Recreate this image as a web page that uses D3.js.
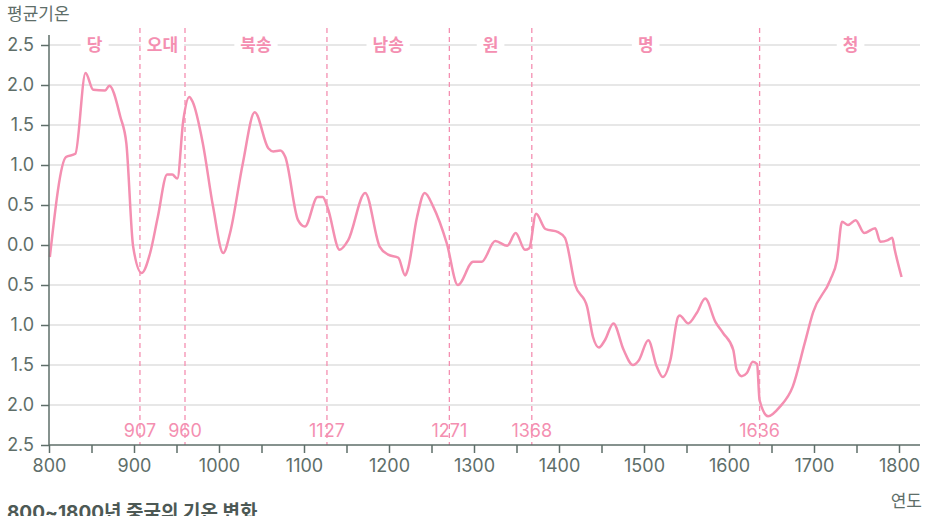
<!DOCTYPE html>
<html>
<head>
<meta charset="utf-8">
<script src="https://cdn.jsdelivr.net/npm/d3@7"></script>
<style>
  body { margin: 0; background: #fff; }
  svg { font-family: Inter, "Noto Sans CJK KR", "Noto Sans", sans-serif; }
</style>
</head>
<body>
<div id="wrapper"></div>
<script>
const years = [801, 820, 831, 843, 852, 866, 871, 884, 891, 899, 909, 919, 928, 939, 945, 951, 958, 965, 969, 981, 993, 1005, 1013, 1028, 1042, 1058, 1064, 1072, 1078, 1093, 1101, 1116, 1122, 1128, 1142, 1152, 1172, 1189, 1199, 1211, 1219, 1222, 1233, 1242, 1252, 1268, 1281, 1299, 1309, 1325, 1339, 1349, 1360, 1365, 1373, 1384, 1399, 1407, 1419, 1433, 1440, 1447, 1454, 1464, 1476, 1487, 1494, 1505, 1515, 1522, 1531, 1540, 1542, 1552, 1562, 1572, 1584, 1593, 1605, 1609, 1615, 1621, 1628, 1633, 1636, 1646, 1660, 1675, 1689, 1699, 1719, 1727, 1733, 1740, 1749, 1759, 1772, 1778, 1787, 1792, 1795, 1803];
const temps = [-0.15, 1.1, 1.14, 2.15, 1.94, 1.93, 1.99, 1.6, 1.27, -0.02, -0.35, -0.1, 0.35, 0.88, 0.88, 0.83, 1.56, 1.85, 1.79, 1.27, 0.48, -0.1, 0.15, 1.02, 1.66, 1.21, 1.17, 1.18, 1.1, 0.31, 0.23, 0.6, 0.6, 0.46, -0.06, 0.06, 0.65, -0.02, -0.12, -0.16, -0.38, -0.31, 0.35, 0.65, 0.48, 0.02, -0.5, -0.21, -0.21, 0.05, -0.01, 0.15, -0.06, -0.04, 0.39, 0.2, 0.16, 0.09, -0.5, -0.77, -1.15, -1.28, -1.19, -0.98, -1.31, -1.5, -1.44, -1.19, -1.52, -1.65, -1.44, -0.9, -0.88, -0.98, -0.85, -0.67, -0.96, -1.1, -1.31, -1.56, -1.64, -1.6, -1.46, -1.49, -1.94, -2.14, -2.02, -1.77, -1.23, -0.84, -0.44, -0.19, 0.29, 0.25, 0.31, 0.15, 0.21, 0.04, 0.06, 0.09, -0.06, -0.4];

const dynastyNames = ["당", "오대", "북송", "남송", "원", "명", "청"];
const dynastyStarts = [800, 907, 960, 1127, 1271, 1368, 1636];
const dynastyEnds = [907, 960, 1127, 1271, 1368, 1636, 1850];
const boundaryYears = [907, 960, 1127, 1271, 1368, 1636];

const yTicks = [2.5, 2.0, 1.5, 1.0, 0.5, 0.0, -0.5, -1.0, -1.5, -2.0, -2.5];

const dataset = years.map((y, i) => ({ year: y, temp: temps[i] }));
const xAccessor = (d) => d.year;
const yAccessor = (d) => d.temp;

const pink = "#f48fb1";
const axisColor = "#5e6e69";

const dimensions = {
  width: 926,
  height: 516,
  margin: { top: 45, right: 6, bottom: 71, left: 49 },
};
dimensions.boundedWidth =
  dimensions.width - dimensions.margin.left - dimensions.margin.right;
dimensions.boundedHeight =
  dimensions.height - dimensions.margin.top - dimensions.margin.bottom;

const wrapper = d3
  .select("#wrapper")
  .append("svg")
  .attr("width", dimensions.width)
  .attr("height", dimensions.height);

const bounds = wrapper
  .append("g")
  .attr("transform", `translate(${dimensions.margin.left}, ${dimensions.margin.top})`);

const xScale = d3
  .scaleLinear()
  .domain([800, 800 + dimensions.boundedWidth / 0.85])
  .range([0, dimensions.boundedWidth]);

const yScale = d3
  .scaleLinear()
  .domain([-2.5, 2.5])
  .range([dimensions.boundedHeight, 0]);

// grid
bounds
  .append("g")
  .selectAll("line")
  .data(yTicks.slice(0, -1))
  .join("line")
  .attr("x1", 0)
  .attr("x2", dimensions.boundedWidth)
  .attr("y1", (d) => yScale(d))
  .attr("y2", (d) => yScale(d))
  .attr("stroke", "#cfcfcf")
  .attr("stroke-width", 1);

// dynasty boundaries
bounds
  .append("g")
  .selectAll("line")
  .data(boundaryYears)
  .join("line")
  .attr("x1", (d) => xScale(d))
  .attr("x2", (d) => xScale(d))
  .attr("y1", -17)
  .attr("y2", dimensions.boundedHeight)
  .attr("stroke", pink)
  .attr("stroke-width", 1.3)
  .attr("stroke-dasharray", "5,4");

// dynasty names
const nameGroups = bounds
  .append("g")
  .selectAll("g")
  .data(dynastyNames)
  .join("g")
  .attr(
    "transform",
    (d, i) => `translate(${xScale((dynastyStarts[i] + dynastyEnds[i]) / 2)}, 0)`
  );

nameGroups.each(function (d) {
  const g = d3.select(this);
  const text = g
    .append("text")
    .attr("text-anchor", "middle")
    .attr("dy", "0.35em")
    .attr("fill", pink)
    .attr("font-weight", "bold")
    .attr("font-size", 17)
    .text(d);
  const bb = text.node().getBBox();
  g.insert("rect", "text")
    .attr("x", bb.x - 6)
    .attr("y", -3)
    .attr("width", bb.width + 12)
    .attr("height", 6)
    .attr("fill", "#fff");
});

// boundary year labels
bounds
  .append("g")
  .selectAll("text")
  .data(boundaryYears)
  .join("text")
  .attr("x", (d) => xScale(d))
  .attr("y", dimensions.boundedHeight - 8)
  .attr("text-anchor", "middle")
  .attr("fill", pink)
  .attr("font-size", 18)
  .text((d) => d);

// line
const lineGenerator = d3
  .line()
  .x((d) => xScale(xAccessor(d)))
  .y((d) => yScale(yAccessor(d)))
  .curve(d3.curveMonotoneX);

bounds
  .append("path")
  .attr("d", lineGenerator(dataset))
  .attr("fill", "none")
  .attr("stroke", pink)
  .attr("stroke-width", 2.5);

// axes
const xAxisGenerator = d3
  .axisBottom(xScale)
  .tickValues(d3.range(800, 1801, 50))
  .tickFormat((d) => (d % 100 === 0 ? d : ""))
  .tickSize(8)
  .tickPadding(6);

const xAxis = bounds
  .append("g")
  .attr("transform", `translate(0, ${dimensions.boundedHeight})`)
  .call(xAxisGenerator);

const yAxisGenerator = d3
  .axisLeft(yScale)
  .tickValues(yTicks)
  .tickFormat((d) => Math.abs(d).toFixed(1))
  .tickSize(8)
  .tickPadding(7);

const yAxis = bounds.append("g").call(yAxisGenerator);

[xAxis, yAxis].forEach((axis) => {
  axis.select(".domain").attr("stroke", axisColor).attr("stroke-width", 1.5);
  axis.selectAll(".tick line").attr("stroke", axisColor).attr("stroke-width", 1.5);
  axis
    .selectAll(".tick text")
    .attr("fill", axisColor)
    .attr("font-size", 18)
    .attr("font-family", "Inter, Noto Sans CJK KR, sans-serif");
});
xAxis.select(".domain").attr("d", `M0,0H${dimensions.boundedWidth}`);
yAxis.select(".domain").attr("d", `M0,-10V${dimensions.boundedHeight}`);

// labels
wrapper
  .append("text")
  .attr("x", 7)
  .attr("y", 20)
  .attr("fill", axisColor)
  .attr("font-size", 17)
  .text("평균기온");

wrapper
  .append("text")
  .attr("x", 922)
  .attr("y", 507)
  .attr("text-anchor", "end")
  .attr("fill", axisColor)
  .attr("font-size", 17)
  .text("연도");

wrapper
  .append("text")
  .attr("x", 7)
  .attr("y", 519)
  .attr("fill", "#4d5955")
  .attr("font-size", 19)
  .attr("font-weight", "bold")
  .text("800~1800년 중국의 기온 변화");
</script>
</body>
</html>
